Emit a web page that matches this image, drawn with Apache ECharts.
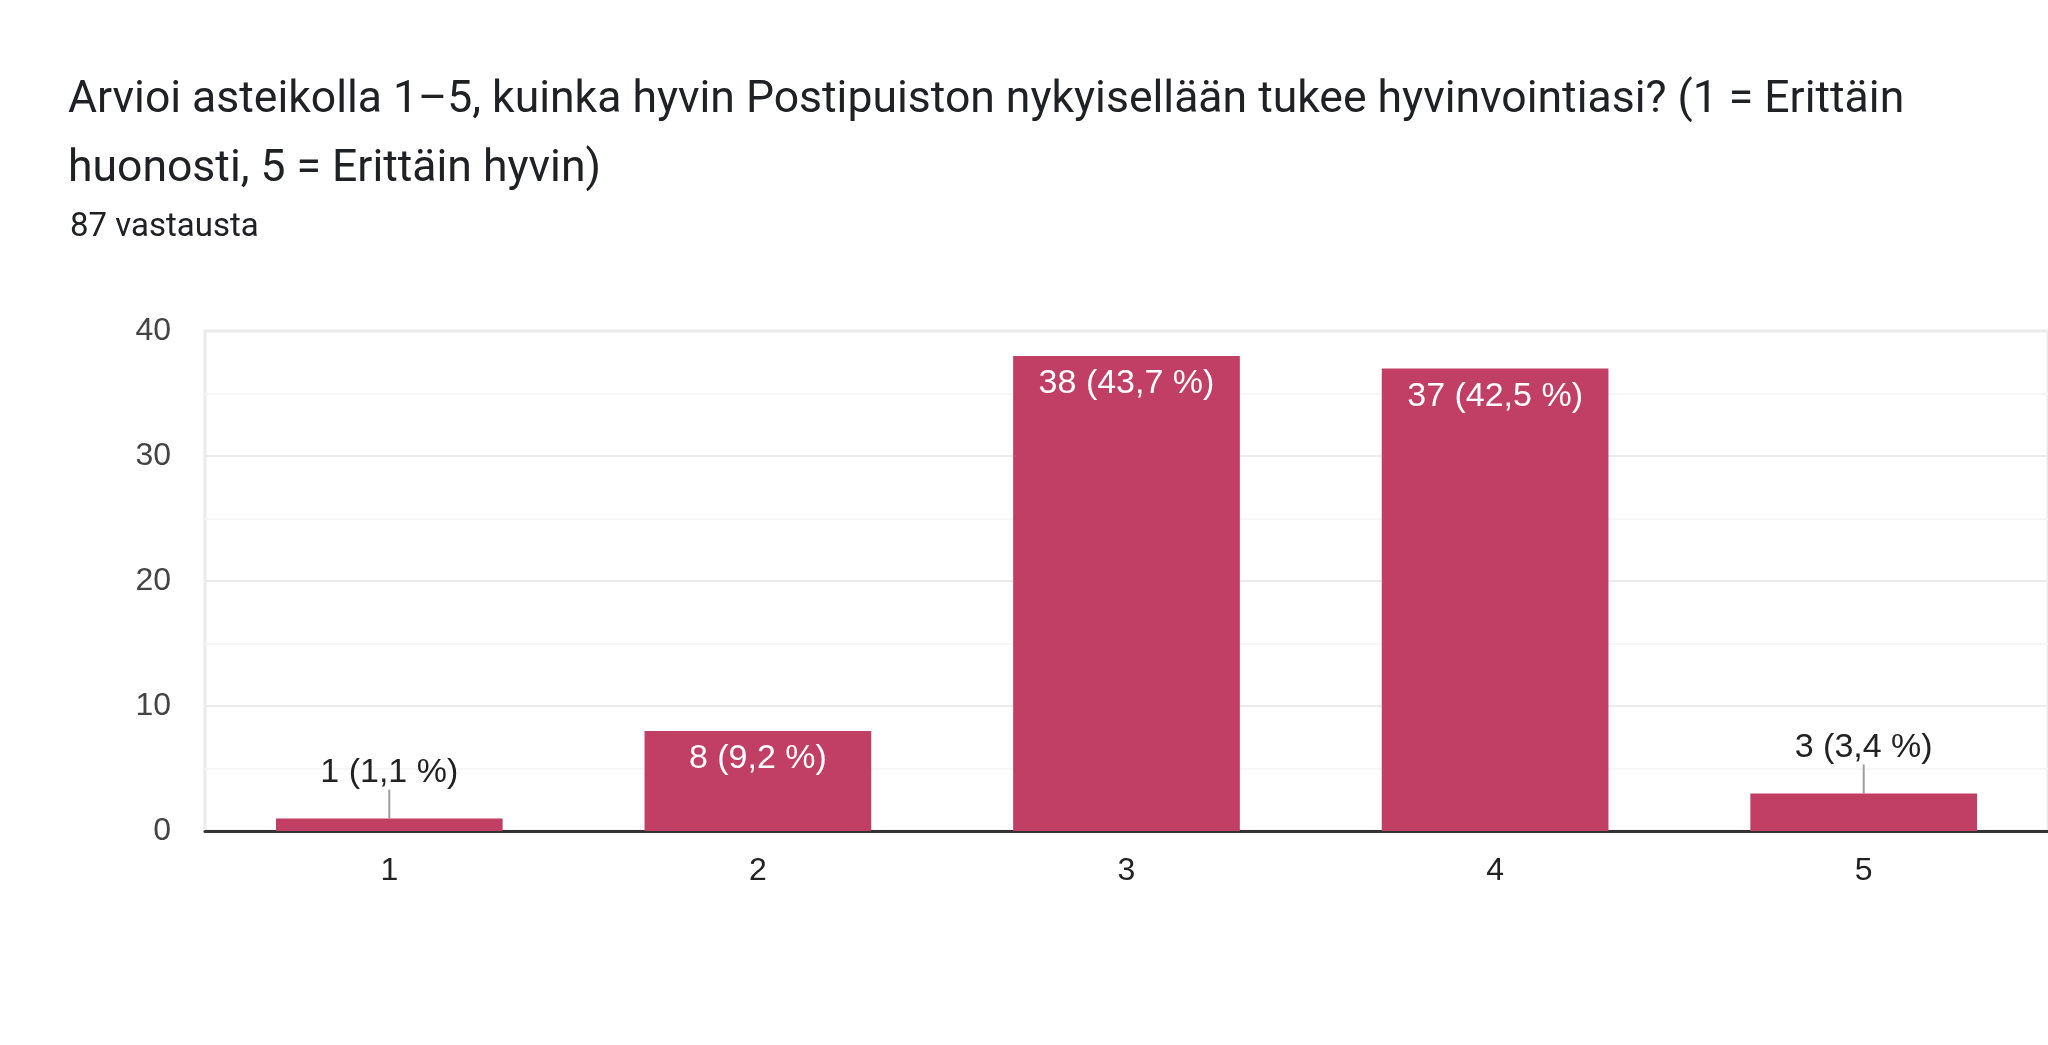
<!DOCTYPE html>
<html>
<head>
<meta charset="utf-8">
<script src="https://cdn.jsdelivr.net/npm/echarts@6/dist/echarts.min.js"></script>
<style>
  html, body { margin: 0; padding: 0; background: #fff; }
  #chart { width: 2048px; height: 1045px; }
</style>
</head>
<body>
<div id="chart"></div>
<script>
var titleText = 'Arvioi asteikolla 1–5, kuinka hyvin Postipuiston nykyisellään tukee hyvinvointiasi? (1 = Erittäin\nhuonosti, 5 = Erittäin hyvin)';
var responseText = '87 vastausta';
var total = 87;
var categories = ['1', '2', '3', '4', '5'];
var counts = [1, 8, 38, 37, 3];
var yTicks = [0, 10, 20, 30, 40];

var barColor = '#c13e64';
var chartFont = 'Liberation Sans, Arial, sans-serif';

function pctText(v){
  return (v / total * 100).toFixed(1).replace('.', ',');
}

var seriesData = [];
for (var i = 0; i < counts.length; i++) {
  var small = counts[i] < 5;
  seriesData.push({
    value: counts[i],
    label: small ? { position: 'top', distance: 5, color: '#222' } : { position: 'insideTop', distance: 11, color: '#fff' },
    labelLine: { show: small }
  });
}

var chart = echarts.init(document.getElementById('chart'));
chart.setOption({
  animation: false,
  backgroundColor: '#fff',
  textStyle: { fontFamily: chartFont },
  title: [
    {
      text: titleText,
      left: 63, top: 61,
      textStyle: { fontFamily: 'Roboto', fontSize: 44.5, fontWeight: 'normal', color: '#202124', lineHeight: 69 }
    },
    {
      text: responseText,
      left: 65, top: 204,
      textStyle: { fontFamily: 'Roboto', fontSize: 33, fontWeight: 'normal', color: '#202124', lineHeight: 38 }
    }
  ],
  grid: {
    left: 205, right: 0, top: 331, bottom: 214,
    show: true, borderColor: '#ebebeb', borderWidth: 3, backgroundColor: 'transparent'
  },
  xAxis: {
    type: 'category',
    data: categories,
    axisLine: { lineStyle: { color: '#333', width: 3 } },
    axisTick: { show: false },
    axisLabel: { color: '#222', fontSize: 32, margin: 24, fontFamily: chartFont }
  },
  yAxis: {
    type: 'value',
    min: 0, max: 40, interval: 5,
    axisLine: { show: false },
    axisTick: { show: false },
    axisLabel: {
      color: '#444', fontSize: 32, margin: 34, fontFamily: chartFont,
      formatter: function(v){ return yTicks.indexOf(v) >= 0 ? String(v) : ''; }
    },
    splitLine: { lineStyle: { color: ['#ebebeb', '#f6f6f6'], width: 2 } }
  },
  series: [{
    type: 'bar',
    data: seriesData,
    barWidth: '61.5%',
    itemStyle: { color: barColor },
    label: {
      show: true,
      fontSize: 34, fontFamily: chartFont, lineHeight: 34,
      formatter: function(p){ return p.value + ' (' + pctText(p.value) + ' %)'; }
    },
    labelLine: { show: false, lineStyle: { color: '#9e9e9e', width: 2 } },
    labelLayout: function(params){
      return counts[params.dataIndex] < 5 ? { dy: -24 } : {};
    }
  }]
});
</script>
</body>
</html>
